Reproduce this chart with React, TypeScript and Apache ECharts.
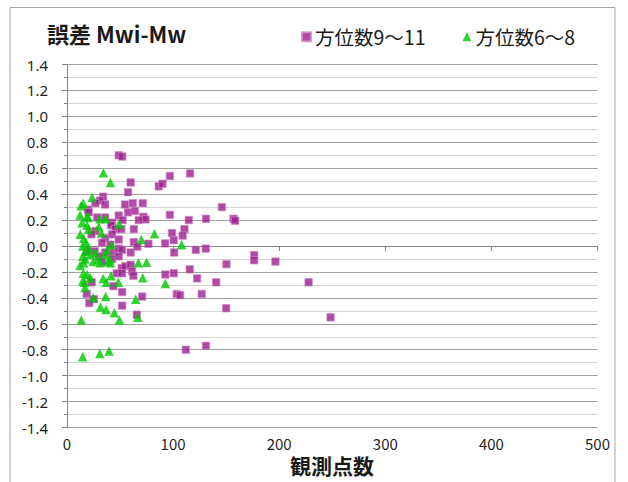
import React, { useEffect, useRef } from "react";
import * as echarts from "echarts";

const seriesNames = ["方位数9～11", "方位数6～8"];
const titleText = "誤差 Mwi-Mw";
const xAxisTitle = "観測点数";

// [観測点数, 誤差]
const purplePoints: number[][] = [
  [48.8, 0.70], [52, 0.69], [97, 0.54], [116, 0.56], [60, 0.49], [86.5, 0.46], [90, 0.48],
  [57.5, 0.415], [34, 0.38], [31, 0.35], [26.7, 0.33], [36, 0.32], [54.7, 0.32], [62, 0.33],
  [71.4, 0.33], [19.8, 0.28], [57.5, 0.26], [64, 0.27], [20.4, 0.26], [48.8, 0.235], [97, 0.24],
  [72, 0.225], [74, 0.205], [52.5, 0.20], [67.6, 0.20], [28.3, 0.22], [36, 0.22], [42.5, 0.18],
  [41.5, 0.16], [114.8, 0.20], [146, 0.30], [131, 0.21], [157, 0.21], [158.5, 0.195],
  [110.7, 0.13], [109, 0.08], [99, 0.10], [63, 0.13], [45.6, 0.13], [51.2, 0.13], [26.7, 0.115],
  [23, 0.09], [36, 0.06], [42.5, 0.09], [48.8, 0.05], [33, 0.025], [40.9, 0.01], [63, 0.03],
  [76.7, 0.017], [92.5, 0.02], [100.6, 0.045], [121.4, -0.03], [130.8, -0.02],
  [18.6, -0.04], [26.1, -0.04], [36, -0.05], [43.7, -0.05], [49, -0.02], [51.9, -0.03],
  [60, -0.05], [66.3, -0.005], [101, -0.05], [29.9, -0.08], [42.5, -0.10], [48.8, -0.08],
  [33, -0.12], [176.4, -0.07], [176.4, -0.11], [196.5, -0.12], [115.7, -0.18], [150.3, -0.14],
  [51.6, -0.17], [55, -0.155], [60, -0.145], [47, -0.21], [51.9, -0.21], [61.3, -0.195],
  [62.6, -0.23], [92.7, -0.22], [100.6, -0.21], [23.3, -0.28], [43.7, -0.31], [52, -0.355],
  [18.6, -0.37], [25.2, -0.41], [21, -0.44], [70.8, -0.39], [52, -0.46], [103.5, -0.37],
  [65.8, -0.53], [122.6, -0.25], [140.6, -0.28], [227.7, -0.28], [106.6, -0.38], [127, -0.37],
  [150, -0.48], [248.4, -0.55], [112, -0.80], [131, -0.77],
];

const greenPoints: number[][] = [
  [34.3, 0.565], [41, 0.49], [23.6, 0.375], [15.4, 0.33], [13.2, 0.31], [12.3, 0.24],
  [18.9, 0.23], [20, 0.22], [31, 0.21], [36.5, 0.21], [49, 0.17], [14.2, 0.18], [18.9, 0.16],
  [20.4, 0.13], [29.9, 0.15], [32.4, 0.10], [12.5, 0.09], [15.7, 0.06], [17.9, 0.025],
  [82.4, 0.094], [70, 0.05], [108, 0.01], [14.8, 0.0], [20, -0.01], [42, 0.01], [17.3, -0.04],
  [37.7, -0.03], [22, -0.065], [26.7, -0.05], [36, -0.065], [14.8, -0.08], [17, -0.10],
  [29.5, -0.10], [40, -0.10], [12.3, -0.15], [15.7, -0.13], [24.8, -0.12], [31.4, -0.13],
  [39, -0.12], [41, -0.13], [67.3, -0.13], [75, -0.125], [15.4, -0.21], [18.9, -0.22],
  [22, -0.245], [14.8, -0.27], [16.7, -0.28], [17, -0.32], [34, -0.25], [37, -0.28],
  [41.5, -0.23], [48.4, -0.28], [71.4, -0.245], [92.7, -0.29], [24.8, -0.40], [36.5, -0.39],
  [64.8, -0.41], [31.6, -0.47], [36.8, -0.49], [44.6, -0.515], [49.4, -0.57], [66.7, -0.55],
  [13.5, -0.57], [14.8, -0.855], [31, -0.83], [39.6, -0.81],
];

const xMin = 0;
const xMax = 500;
const xInterval = 100;
const yMin = -1.4;
const yMax = 1.4;
const yInterval = 0.2;

const JP = '"Noto Sans CJK JP", "Noto Sans", sans-serif';

export default function App() {
  const ref = useRef<HTMLDivElement>(null);

  useEffect(() => {
    if (!ref.current) return;
    const chart = echarts.init(ref.current, undefined, { renderer: "svg" });
    chart.setOption({
      animation: false,
      backgroundColor: "#ffffff",
      grid: { left: 67, right: 30.5, top: 64.5, bottom: 54.5, containLabel: false },
      legend: {
        left: 296,
        top: 22,
        itemGap: 37,
        itemWidth: 9,
        itemHeight: 9,
        textStyle: { fontFamily: JP, fontSize: 19.5, color: "#1a1a1a", padding: [0, 0, 0, -1] },
        data: [
          { name: seriesNames[0], icon: "rect" },
          { name: seriesNames[1], icon: "triangle" },
        ],
      },
      graphic: [
        {
          type: "rect",
          silent: true,
          z: -10,
          shape: { x: 10, y: 7.5, width: 605, height: 490 },
          style: { fill: "none", stroke: "#a6a6a6", lineWidth: 1 },
        },
        {
          type: "text",
          x: 47,
          y: 33,
          style: {
            text: titleText,
            fontFamily: JP,
            fontSize: 22,
            fontWeight: "bold",
            fill: "#1a1a1a",
            align: "left",
            verticalAlign: "middle",
          },
        },
        {
          type: "text",
          x: 332,
          y: 465,
          style: {
            text: xAxisTitle,
            fontFamily: JP,
            fontSize: 21,
            fontWeight: "bold",
            fill: "#1a1a1a",
            align: "center",
            verticalAlign: "middle",
          },
        },
      ],
      xAxis: {
        type: "value",
        min: xMin,
        max: xMax,
        interval: xInterval,
        axisLine: { show: true, lineStyle: { color: "#868686", width: 1 } },
        axisTick: { show: true, length: 5, lineStyle: { color: "#868686" } },
        splitLine: { show: false },
        axisLabel: { margin: 8, fontFamily: JP, fontSize: 15, color: "#1f1f1f" },
      },
      yAxis: {
        type: "value",
        min: yMin,
        max: yMax,
        interval: yInterval,
        axisLine: { show: true, onZero: false, lineStyle: { color: "#868686", width: 1 } },
        axisTick: { show: true, length: 5, lineStyle: { color: "#868686" } },
        minorTick: { show: true, splitNumber: 2, length: 3, lineStyle: { color: "#868686" } },
        splitLine: { show: true, lineStyle: { color: "#a0a0a0", width: 1.2 } },
        minorSplitLine: { show: true, lineStyle: { color: "#d4d4d4", width: 1.2 } },
        axisLabel: {
          margin: 19,
          fontFamily: '"Noto Sans", sans-serif',
          fontSize: 15,
          color: "#1f1f1f",
          formatter: (v: number) => v.toFixed(1),
        },
      },
      series: [
        {
          name: seriesNames[0],
          type: "scatter",
          symbol: "rect",
          symbolSize: 7.5,
          itemStyle: { color: "#9c1f8e", borderColor: "#d08ac4", borderWidth: 0.8 },
          data: purplePoints,
          z: 2,
        },
        {
          name: seriesNames[1],
          type: "scatter",
          symbol: "triangle",
          symbolSize: 9.5,
          itemStyle: { color: "#00c800" },
          data: greenPoints,
          z: 3,
        },
      ],
    });
    return () => chart.dispose();
  }, []);

  return (
    <div
      ref={ref}
      style={{ position: "fixed", left: 0, top: 0, width: 628, height: 482 }}
    />
  );
}
